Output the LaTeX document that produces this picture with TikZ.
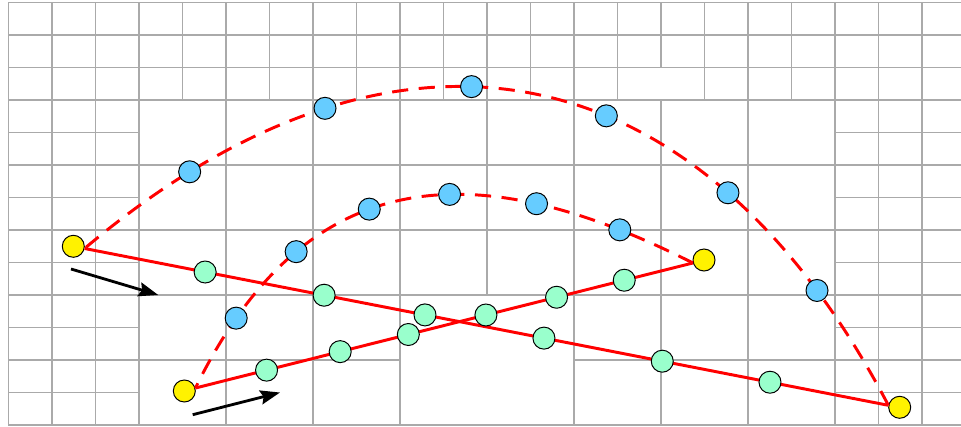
\documentclass[tikz,border=0pt]{standalone}
\usepackage{xcolor}
\usetikzlibrary{arrows.meta}
\definecolor{gridgray}{RGB}{170,170,170}
\definecolor{ptblue}{RGB}{102,204,255}
\definecolor{ptgreen}{RGB}{153,255,204}
\begin{document}
\begin{tikzpicture}[
    x=0.025cm, y=-0.025cm,
    gridline/.style={draw=gridgray, line width=1pt},
    pt/.style={circle, draw=black, solid, line width=0.7pt, minimum size=0.55cm, inner sep=0pt},
    endpt/.style={pt, fill=yellow},
    bluept/.style={pt, fill=ptblue},
    greenpt/.style={pt, fill=ptgreen},
    track/.style={draw=red, line width=2.1pt},
    backtrack/.style={track, dash pattern=on 11.5pt off 7.5pt},
    arr/.style={-{Stealth[length=14pt,width=10pt,inset=2pt]}, line width=2pt}
]
\useasboundingbox (0,0) rectangle (961,427);
% adaptive mesh, in cell units
\begin{scope}[shift={(0.2075cm,-0.0575cm)}, x=1.0875cm, y=-0.8125cm, gridline]
\foreach \r in {0,1,2,3,5,7,9,13} \draw (0,\r) -- (21.9,\r);
\foreach \r in {4,6,8,10,12} {\draw (0,\r) -- (3,\r); \draw (19,\r) -- (21.9,\r);}
\draw (0,11) -- (9,11) (13,11) -- (21.9,11);
\foreach \c in {0,1,2,3,5,7,9,13,17,19,20,21} \draw (\c,0) -- (\c,13);
\foreach \c in {4,6,8,10,12,14,16,18} \draw (\c,0) -- (\c,3);
\draw (11,0) -- (11,9);
\draw (15,0) -- (15,2) (15,3) -- (15,13);
\end{scope}
% end points
\node[endpt] (y1) at (73.3,246.3) {};
\node[endpt] (y2) at (184.3,391) {};
\node[endpt] (y3) at (704,260) {};
\node[endpt] (y4) at (899.7,407.3) {};
% outer loop
\draw[track] (y1.-11) -- (y4.170)
    node[greenpt, pos=0.150] (ol1) {}
    node[greenpt, pos=0.298] (ol2) {}
    node[greenpt, pos=0.4235] (ol3) {}
    node[greenpt, pos=0.5715] (ol4) {}
    node[greenpt, pos=0.7187] (ol5) {}
    node[greenpt, pos=0.8527] (ol6) {};
\draw[backtrack] (y4.170) .. controls (698,41.8) and (392.6,-11.5) .. (y1.-11)
    node[bluept, pos=0.117] (oa1) {}
    node[bluept, pos=0.247] (oa2) {}
    node[bluept, pos=0.407] (oa3) {}
    node[bluept, pos=0.57] (oa4) {}
    node[bluept, pos=0.737] (oa5) {}
    node[bluept, pos=0.886] (oa6) {};
% inner loop
\draw[track] (y2.15) -- (y3.-165)
    node[greenpt, pos=0.143] (il1) {}
    node[greenpt, pos=0.291] (il2) {}
    node[greenpt, pos=0.428] (il3) {}
    node[greenpt, pos=0.584] (il4) {}
    node[greenpt, pos=0.726] (il5) {}
    node[greenpt, pos=0.862] (il6) {};
\draw[backtrack] (y3.-165) .. controls (464,147) and (302,171) .. (y2.15)
    node[bluept, pos=0.11] (ia1) {}
    node[bluept, pos=0.245] (ia2) {}
    node[bluept, pos=0.4] (ia3) {}
    node[bluept, pos=0.56] (ia4) {}
    node[bluept, pos=0.725] (ia5) {}
    node[bluept, pos=0.88] (ia6) {};
% direction of motion
\coordinate (m1s) at (71,269);
\coordinate (m1e) at (158.3,295);
\coordinate (m2s) at (192.7,414.7);
\coordinate (m2e) at (280,392.5);
\draw[arr] (m1s) -- (m1e);
\draw[arr] (m2s) -- (m2e);
\end{tikzpicture}
\end{document}
